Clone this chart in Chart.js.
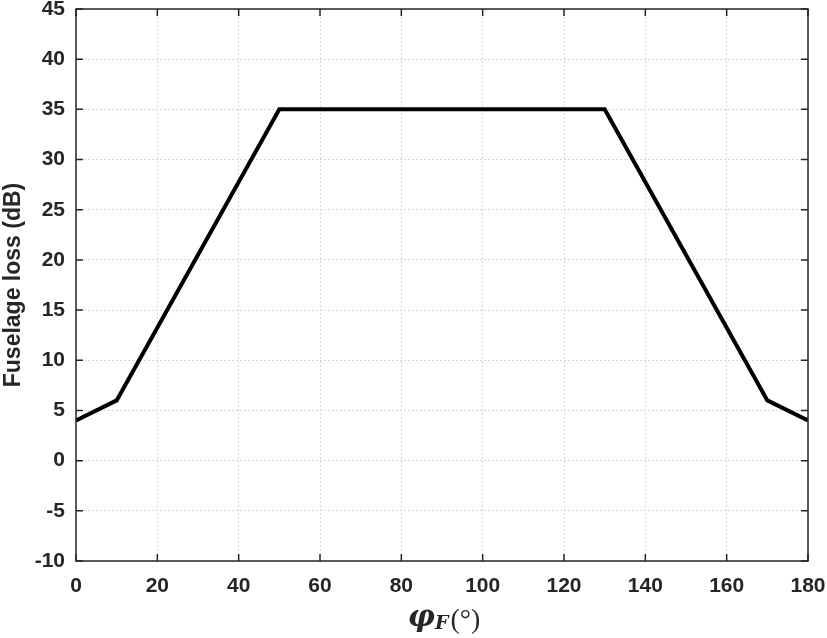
<!DOCTYPE html>
<html>
<head>
<meta charset="utf-8">
<script src="https://cdn.jsdelivr.net/npm/chart.js@4"></script>
<style>
  html, body { margin: 0; padding: 0; background: #fff; }
  #wrap { width: 827px; height: 638px; position: relative; }
</style>
</head>
<body>
<div id="wrap"><canvas id="c"></canvas></div>
<script>
  // data
  var anglesDeg = [0, 10, 50, 130, 170, 180];
  var lossDb = [4, 6, 35, 35, 6, 4];
  var xTicks = [0, 20, 40, 60, 80, 100, 120, 140, 160, 180];
  var yTicks = [-10, -5, 0, 5, 10, 15, 20, 25, 30, 35, 40, 45];
  var yLabel = 'Fuselage loss (dB)';

  var PLOT_LEFT = 76, PLOT_TOP = 9, PLOT_RIGHT = 808, PLOT_BOTTOM = 561;
  var W = 827, H = 638;
  var tickFont = { family: 'Arial, "Liberation Sans", sans-serif', size: 21, weight: 'bold' };

  // box + inward tick marks, like the MATLAB axes
  var boxPlugin = {
    id: 'box',
    afterDraw: function (chart) {
      var ctx = chart.ctx, a = chart.chartArea;
      var xs = chart.scales.x, ys = chart.scales.y;
      ctx.save();
      ctx.strokeStyle = '#262626';
      ctx.lineWidth = 1.5;
      ctx.strokeRect(a.left, a.top, a.right - a.left, a.bottom - a.top);
      ctx.beginPath();
      xTicks.forEach(function (v) {
        var px = xs.getPixelForValue(v);
        ctx.moveTo(px, a.bottom); ctx.lineTo(px, a.bottom - 7);
        ctx.moveTo(px, a.top); ctx.lineTo(px, a.top + 7);
      });
      yTicks.forEach(function (v) {
        var py = ys.getPixelForValue(v);
        ctx.moveTo(a.left, py); ctx.lineTo(a.left + 7, py);
        ctx.moveTo(a.right, py); ctx.lineTo(a.right - 7, py);
      });
      ctx.stroke();

      // x label: phi_F (deg)
      var cx = (a.left + a.right) / 2 + 1, by = 630;
      var f1 = 'italic bold 30px "DejaVu Serif", "Liberation Serif", serif';
      var f2 = 'italic bold 19px "DejaVu Serif", "Liberation Serif", serif';
      var f3 = '28px "Liberation Serif", "DejaVu Serif", serif';
      ctx.fillStyle = '#262626';
      ctx.textBaseline = 'alphabetic';
      ctx.font = f1; var w1 = ctx.measureText('\u03c6').width;
      ctx.font = f2; var w2 = ctx.measureText('F').width;
      ctx.font = f3; var w3 = ctx.measureText('(\u00b0)').width;
      var x0 = cx - (w1 + w2 + w3) / 2;
      ctx.font = f1; ctx.fillText('\u03c6', x0, by - 4);
      ctx.font = f2; ctx.fillText('F', x0 + w1, by - 1);
      ctx.font = f3; ctx.fillText('(\u00b0)', x0 + w1 + w2 + 2, by - 2);
      ctx.restore();
    }
  };

  new Chart(document.getElementById('c'), {
    type: 'line',
    data: {
      datasets: [{
        data: anglesDeg.map(function (x, i) { return { x: x, y: lossDb[i] }; }),
        borderColor: '#000',
        borderWidth: 4,
        pointRadius: 0,
        tension: 0,
        fill: false
      }]
    },
    options: {
      responsive: true,
      maintainAspectRatio: false,
      animation: false,
      events: [],
      layout: { padding: { left: 0, top: PLOT_TOP, right: W - PLOT_RIGHT, bottom: 0 } },
      plugins: { legend: { display: false }, tooltip: { enabled: false } },
      scales: {
        x: {
          type: 'linear', min: 0, max: 180,
          afterBuildTicks: function (s) { s.ticks = xTicks.map(function (v) { return { value: v }; }); },
          afterFit: function (s) { s.height = H - PLOT_BOTTOM; s.paddingLeft = 0; s.paddingRight = 0; },
          grid: { color: '#d9d9d9', lineWidth: 1, drawTicks: false },
          border: { display: false, dash: [2, 2] },
          ticks: { font: tickFont, color: '#262626', padding: 13, maxRotation: 0 }
        },
        y: {
          type: 'linear', min: -10, max: 45,
          afterBuildTicks: function (s) { s.ticks = yTicks.map(function (v) { return { value: v }; }); },
          afterFit: function (s) { s.width = PLOT_LEFT; s.paddingTop = 0; s.paddingBottom = 0; },
          grid: { color: '#d9d9d9', lineWidth: 1, drawTicks: false },
          border: { display: false, dash: [2, 2] },
          ticks: { font: tickFont, color: '#262626', padding: 11 },
          title: {
            display: true, text: yLabel, color: '#262626',
            font: { family: 'Arial, "Liberation Sans", sans-serif', size: 23, weight: 'bold' },
            padding: { top: 0, bottom: 0 }
          }
        }
      }
    },
    plugins: [boxPlugin]
  });
</script>
</body>
</html>
